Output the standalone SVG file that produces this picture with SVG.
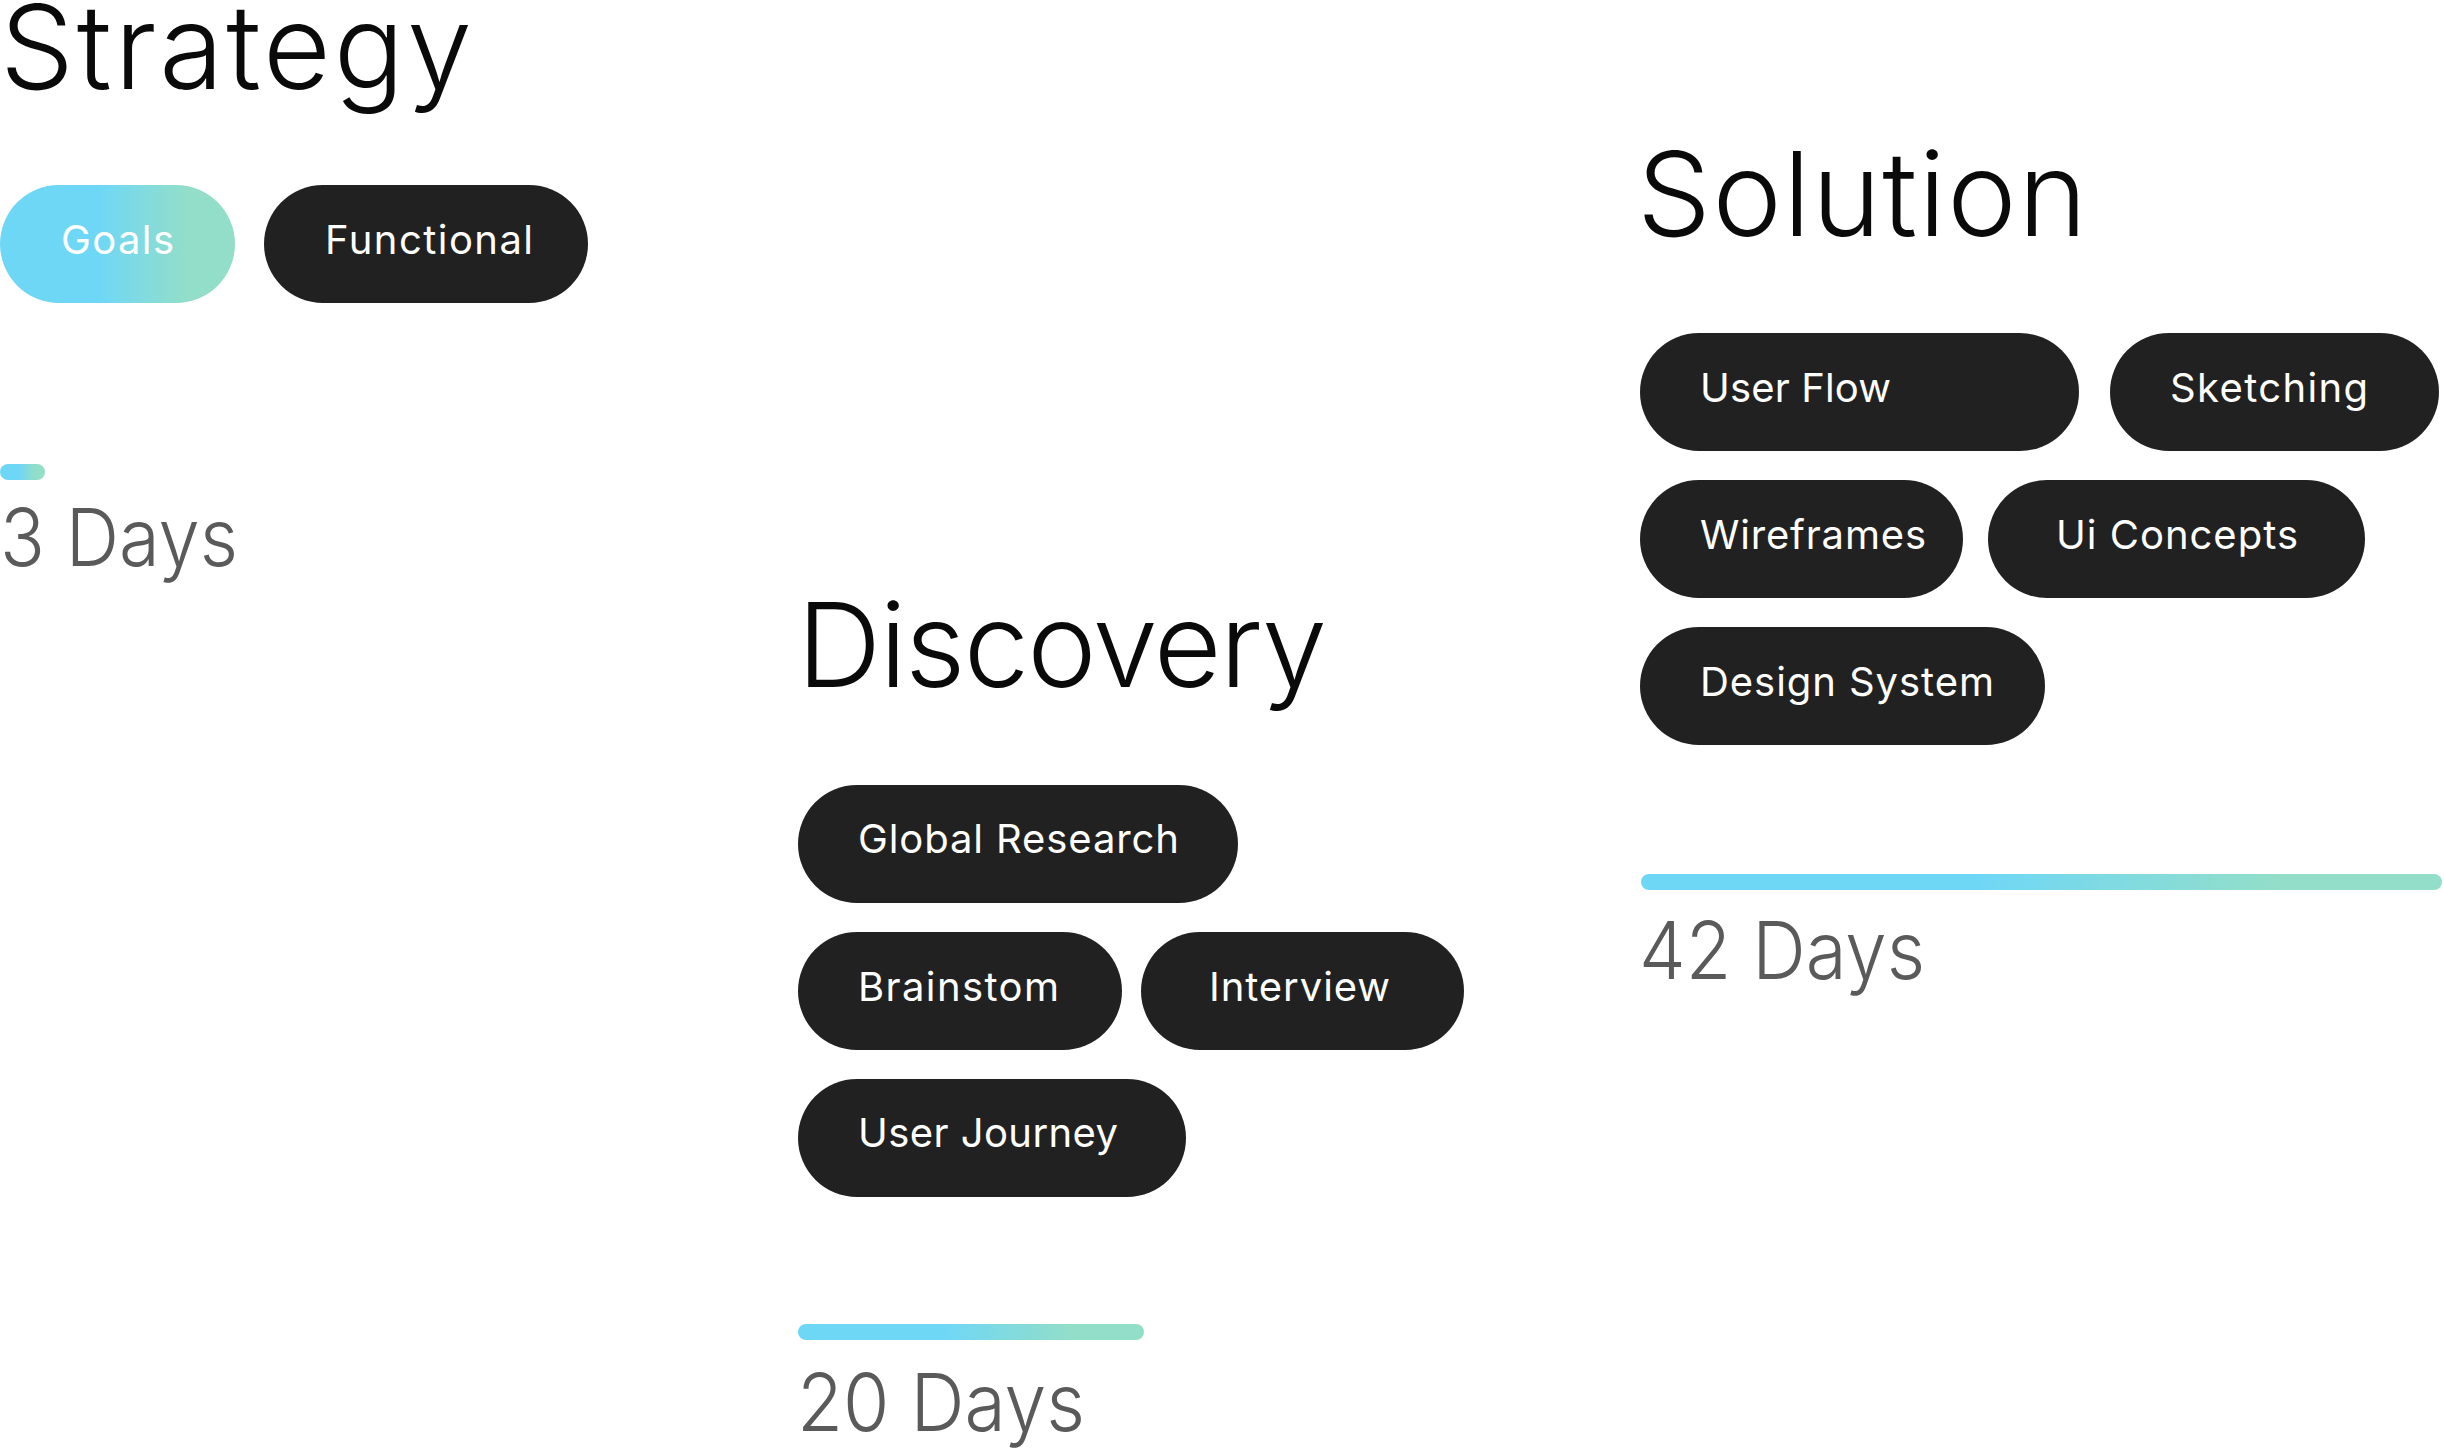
<svg xmlns="http://www.w3.org/2000/svg" width="2444" height="1451" viewBox="0 0 2444 1451">
<style>
.title{font-family:Inter,"Noto Sans","Liberation Sans",sans-serif;font-weight:300;font-size:117px;fill:#0a0a0a}
.days{font-family:Inter,"Noto Sans","Liberation Sans",sans-serif;font-weight:300;font-size:80px;fill:#5a5a5a}
.pill{fill:#212121}
.grad{fill:url(#g)}
.lbl{font-family:Inter,"Noto Sans","Liberation Sans",sans-serif;font-weight:400;font-size:40px;fill:#ffffff}
</style>
<defs>
<linearGradient id="g" x1="0" y1="0" x2="1" y2="0">
<stop offset="0" stop-color="#6fd7f6"/>
<stop offset="0.42" stop-color="#6fd7f6"/>
<stop offset="0.8" stop-color="#93dec8"/>
<stop offset="1" stop-color="#93dec8"/>
</linearGradient>
</defs>
<rect width="2444" height="1451" fill="#ffffff"/>
<g id="strategy">
<text class="title" x="0" y="89" textLength="472">Strategy</text>
<g id="goals"><rect class="grad" x="0" y="185" width="235" height="118" rx="59"/><text class="lbl" x="61" y="254" textLength="113">Goals</text></g>
<g id="functional"><rect class="pill" x="264" y="185" width="324" height="118" rx="59"/><text class="lbl" x="325" y="254" textLength="208">Functional</text></g>
<rect id="bar-strategy" class="grad" x="0" y="464" width="45" height="16" rx="8"/>
<text class="days" x="0" y="566" textLength="238" lengthAdjust="spacingAndGlyphs">3 Days</text>
</g>
<g id="discovery">
<text class="title" x="797" y="687" textLength="530">Discovery</text>
<g id="global-research"><rect class="pill" x="798" y="785" width="440" height="118" rx="59"/><text class="lbl" x="858" y="853" textLength="321">Global Research</text></g>
<g id="brainstom"><rect class="pill" x="798" y="932" width="324" height="118" rx="59"/><text class="lbl" x="858" y="1001" textLength="201">Brainstom</text></g>
<g id="interview"><rect class="pill" x="1141" y="932" width="323" height="118" rx="59"/><text class="lbl" x="1209" y="1001" textLength="181">Interview</text></g>
<g id="user-journey"><rect class="pill" x="798" y="1079" width="388" height="118" rx="59"/><text class="lbl" x="858" y="1147" textLength="260">User Journey</text></g>
<rect id="bar-discovery" class="grad" x="798" y="1324" width="346" height="16" rx="8"/>
<text class="days" x="797" y="1431" textLength="288" lengthAdjust="spacingAndGlyphs">20 Days</text>
</g>
<g id="solution">
<text class="title" x="1637" y="236" textLength="450">Solution</text>
<g id="user-flow"><rect class="pill" x="1640" y="333" width="439" height="118" rx="59"/><text class="lbl" x="1700" y="402" textLength="191">User Flow</text></g>
<g id="sketching"><rect class="pill" x="2110" y="333" width="329" height="118" rx="59"/><text class="lbl" x="2170" y="402" textLength="198">Sketching</text></g>
<g id="wireframes"><rect class="pill" x="1640" y="480" width="323" height="118" rx="59"/><text class="lbl" x="1700" y="549" textLength="226">Wireframes</text></g>
<g id="ui-concepts"><rect class="pill" x="1988" y="480" width="377" height="118" rx="59"/><text class="lbl" x="2056" y="549" textLength="242">Ui Concepts</text></g>
<g id="design-system"><rect class="pill" x="1640" y="627" width="405" height="118" rx="59"/><text class="lbl" x="1700" y="696" textLength="294">Design System</text></g>
<rect id="bar-solution" class="grad" x="1641" y="874" width="801" height="16" rx="8"/>
<text class="days" x="1639" y="979" textLength="286" lengthAdjust="spacingAndGlyphs">42 Days</text>
</g>
<g id="connectors"/>
</svg>
